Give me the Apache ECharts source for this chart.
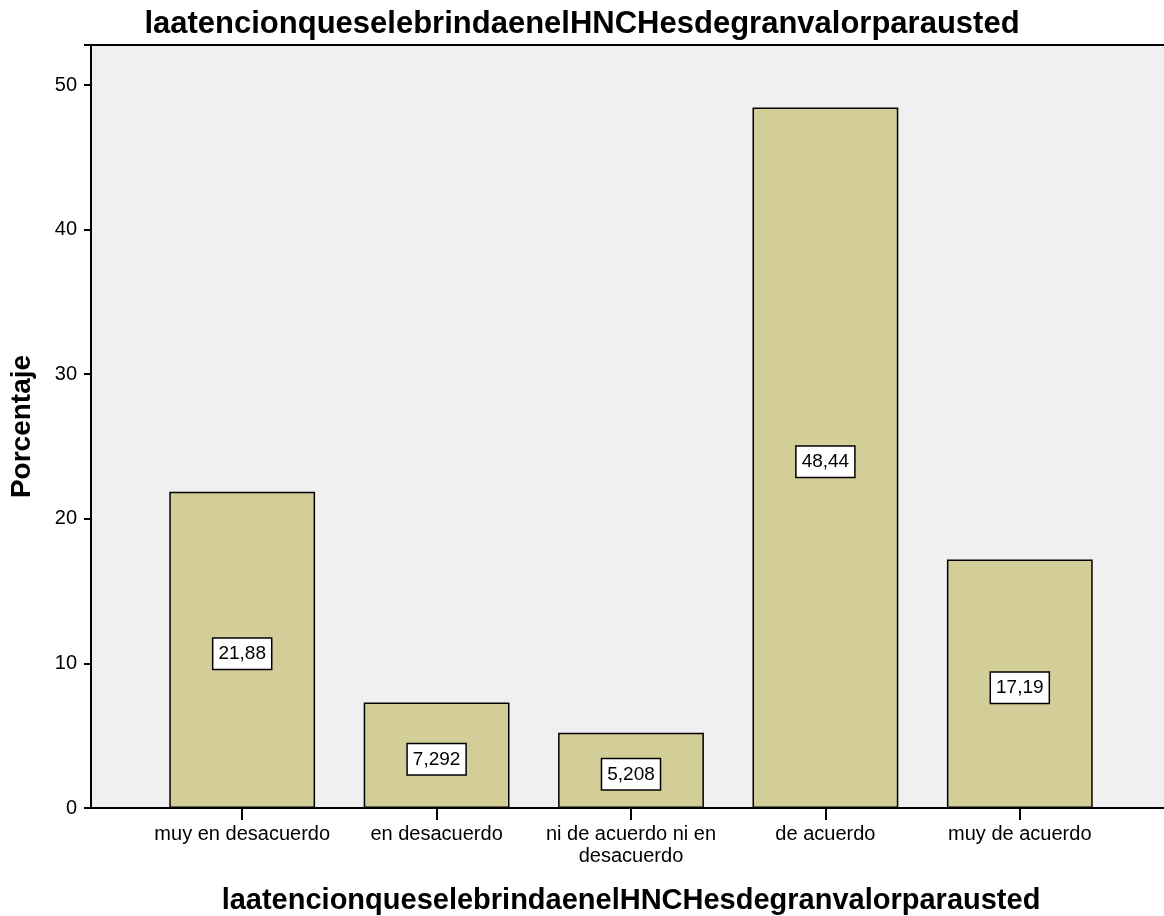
<!DOCTYPE html>
<html>
<head>
<meta charset="utf-8">
<script src="https://cdn.jsdelivr.net/npm/echarts@6/dist/echarts.min.js"></script>
<style>
  html, body { margin: 0; padding: 0; background: #ffffff; }
  #chart { width: 1164px; height: 916px; }
</style>
</head>
<body>
<div id="chart"></div>
<script>
// Response categories and their percentages
const categories = ['muy en desacuerdo', 'en desacuerdo', 'ni de acuerdo ni en\ndesacuerdo', 'de acuerdo', 'muy de acuerdo'];
const percentages = [21.88, 7.292, 5.208, 48.44, 17.19];
const valueLabels = ['21,88', '7,292', '5,208', '48,44', '17,19'];
const yTicks = [0, 10, 20, 30, 40, 50];

const titleText = 'laatencionqueselebrindaenelHNCHesdegranvalorparausted';
const yMax = 52.77;
const font = '"Liberation Sans", Arial, sans-serif';

const chart = echarts.init(document.getElementById('chart'), null, { renderer: 'canvas' });

chart.setOption({
  animation: false,
  backgroundColor: '#ffffff',
  title: {
    text: titleText,
    left: 'center',
    top: 4,
    textStyle: { fontFamily: font, fontSize: 31, fontWeight: 'bold', color: '#000' }
  },
  grid: [
    // frame: background, y axis, baseline
    { left: 91, right: 0, top: 45, bottom: 108, show: true, backgroundColor: '#f0f0f0', borderWidth: 0, outerBoundsMode: 'none', containLabel: false },
    // bars
    { left: 145, right: 47, top: 45, bottom: 108, outerBoundsMode: 'none', containLabel: false }
  ],
  xAxis: [
    {
      gridIndex: 0, type: 'value', min: 0, max: 1,
      axisLine: { show: true, onZero: false, lineStyle: { color: '#000', width: 2 } },
      axisTick: { show: false }, axisLabel: { show: false }, splitLine: { show: false }
    },
    {
      gridIndex: 0, type: 'value', min: 0, max: 1, position: 'top',
      axisLine: { show: true, onZero: false, lineStyle: { color: '#000', width: 2 } },
      axisTick: { show: false }, axisLabel: { show: false }, splitLine: { show: false }
    },
    {
      gridIndex: 1, type: 'category', data: categories,
      axisLine: { show: false },
      axisTick: { show: true, alignWithLabel: true, length: 12, lineStyle: { color: '#000', width: 2 } },
      axisLabel: { fontFamily: font, fontSize: 20, color: '#000', margin: 15, lineHeight: 22, interval: 0 },
      name: titleText,
      nameLocation: 'middle',
      nameGap: 78,
      nameTextStyle: { fontFamily: font, fontSize: 29, fontWeight: 'bold', color: '#000' }
    }
  ],
  yAxis: [
    {
      gridIndex: 0, type: 'value', min: 0, max: yMax, interval: 10,
      axisLine: { show: true, onZero: false, lineStyle: { color: '#000', width: 2 } },
      axisTick: { show: true, length: 7, lineStyle: { color: '#000', width: 2 } },
      axisLabel: {
        fontFamily: font, fontSize: 20, color: '#000', margin: 14,
        formatter: v => (yTicks.includes(v) ? String(v) : '')
      },
      splitLine: { show: false },
      name: 'Porcentaje',
      nameLocation: 'middle',
      nameGap: 55,
      nameTextStyle: { fontFamily: font, fontSize: 28, fontWeight: 'bold', color: '#000' }
    },
    {
      gridIndex: 1, type: 'value', min: 0, max: yMax,
      show: false
    }
  ],
  series: [
    {
      type: 'bar',
      xAxisIndex: 2,
      yAxisIndex: 1,
      data: percentages,
      barWidth: '75%',
      itemStyle: { color: '#d3ce97', borderColor: '#000', borderWidth: 1.5 },
      label: {
        show: true,
        position: 'inside',
        offset: [0, 4],
        formatter: p => valueLabels[p.dataIndex],
        fontFamily: font,
        fontSize: 19,
        color: '#000',
        backgroundColor: '#ffffff',
        borderColor: '#000',
        borderWidth: 1.5,
        padding: [6, 5, 5, 5]
      }
    }
  ]
});
</script>
</body>
</html>
